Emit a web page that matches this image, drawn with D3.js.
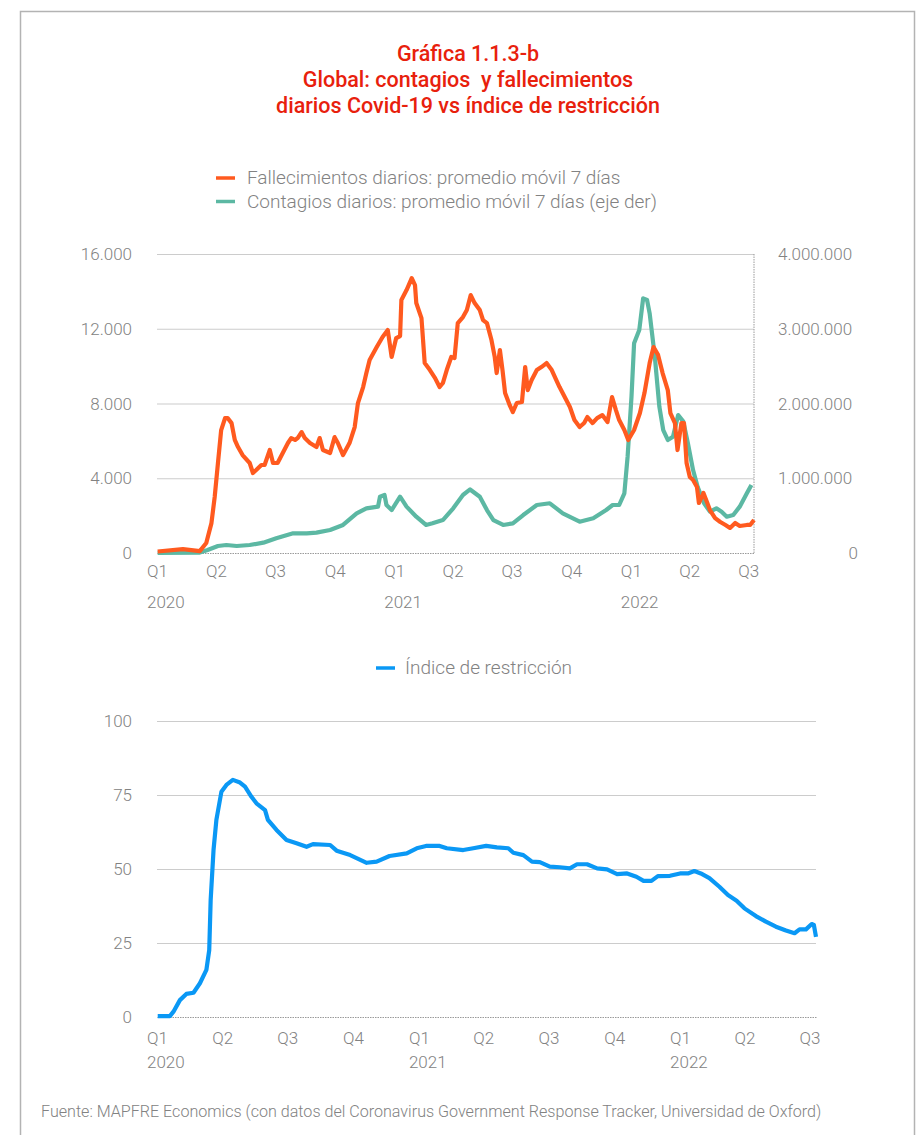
<!DOCTYPE html>
<html><head><meta charset="utf-8">
<script src="https://cdn.jsdelivr.net/npm/d3@7"></script>
<style>
html,body{margin:0;padding:0;background:#fff;}
svg{display:block;}
text{font-family:Roboto,"Open Sans",sans-serif;}
</style></head>
<body><svg id="c" width="919" height="1135"></svg>
<script>
// ---------- DATA ----------
const titleLines = ["Gráfica 1.1.3-b", "Global: contagios  y fallecimientos", "diarios Covid-19 vs índice de restricción"];
const legendTop = ["Fallecimientos diarios: promedio móvil 7 días", "Contagios diarios: promedio móvil 7 días (eje der)"];
const legendBottom = ["Índice de restricción"];
const sourceText = "Fuente: MAPFRE Economics (con datos del Coronavirus Government Response Tracker, Universidad de Oxford)";

const quarterTicks = ["2020-01-01","2020-04-01","2020-07-01","2020-10-01","2021-01-01","2021-04-01","2021-07-01","2021-10-01","2022-01-01","2022-04-01","2022-07-01"];
const quarterLabels = ["Q1","Q2","Q3","Q4","Q1","Q2","Q3","Q4","Q1","Q2","Q3"];
const yearLabels = ["2020","","","","2021","","","","2022","",""];
const leftTicks = [0, 4000, 8000, 12000, 16000];
const rightTicks = [0, 1000000, 2000000, 3000000, 4000000];
const indexTicks = [0, 25, 50, 75, 100];

// Fallecimientos diarios (promedio móvil 7 días)
const deaths = [["2020-01-02",80],["2020-02-10",210],["2020-03-07",100],["2020-03-17",535],["2020-03-25",1600],["2020-03-30",3000],["2020-04-04",4800],["2020-04-09",6580],["2020-04-15",7220],["2020-04-19",7220],["2020-04-25",6950],["2020-04-30",6050],["2020-05-05",5670],["2020-05-12",5240],["2020-05-23",4815],["2020-05-28",4280],["2020-06-02",4440],["2020-06-10",4710],["2020-06-15",4710],["2020-06-23",5510],["2020-06-28",4815],["2020-07-05",4815],["2020-07-13",5350],["2020-07-21",5885],["2020-07-26",6150],["2020-08-01",6050],["2020-08-05",6150],["2020-08-11",6470],["2020-08-16",6150],["2020-08-24",5885],["2020-09-03",5670],["2020-09-08",6150],["2020-09-13",5510],["2020-09-24",5350],["2020-10-01",6200],["2020-10-06",5885],["2020-10-14",5240],["2020-10-24",5885],["2020-11-01",6740],["2020-11-06",8025],["2020-11-14",8880],["2020-11-19",9630],["2020-11-24",10325],["2020-12-05",11020],["2020-12-14",11560],["2020-12-22",11930],["2020-12-28",10490],["2021-01-04",11500],["2021-01-10",11610],["2021-01-12",13535],["2021-01-20",14070],["2021-01-28",14710],["2021-02-02",14340],["2021-02-04",13375],["2021-02-12",12570],["2021-02-17",10165],["2021-02-25",9790],["2021-03-05",9360],["2021-03-12",8880],["2021-03-17",9095],["2021-03-23",9790],["2021-03-30",10490],["2021-04-04",10430],["2021-04-09",12300],["2021-04-17",12625],["2021-04-23",13000],["2021-04-29",13800],["2021-05-05",13375],["2021-05-13",13000],["2021-05-18",12465],["2021-05-24",12300],["2021-05-31",11395],["2021-06-05",10490],["2021-06-08",9630],["2021-06-13",10860],["2021-06-17",9790],["2021-06-21",8560],["2021-06-28",7920],["2021-07-03",7545],["2021-07-09",8025],["2021-07-17",8080],["2021-07-22",9950],["2021-07-26",8720],["2021-08-01",9255],["2021-08-09",9790],["2021-08-16",9950],["2021-08-24",10165],["2021-09-01",9790],["2021-09-08",9255],["2021-09-13",8880],["2021-09-21",8345],["2021-09-29",7810],["2021-10-06",7115],["2021-10-14",6740],["2021-10-21",6955],["2021-10-26",7275],["2021-11-03",6955],["2021-11-10",7220],["2021-11-18",7380],["2021-11-26",7010],["2021-12-03",8345],["2021-12-09",7650],["2021-12-14",7115],["2021-12-22",6580],["2021-12-28",6045],["2022-01-06",6580],["2022-01-15",7490],["2022-01-22",8560],["2022-01-30",10165],["2022-02-05",11020],["2022-02-12",10600],["2022-02-19",9630],["2022-02-27",8720],["2022-03-03",7490],["2022-03-10",6955],["2022-03-14",5510],["2022-03-20",6955],["2022-03-24",6955],["2022-03-28",4815],["2022-04-02",4065],["2022-04-07",3905],["2022-04-13",3530],["2022-04-16",2675],["2022-04-23",3210],["2022-04-29",2675],["2022-05-03",2300],["2022-05-11",1870],["2022-05-19",1660],["2022-05-27",1500],["2022-06-03",1340],["2022-06-11",1605],["2022-06-18",1445],["2022-06-29",1500],["2022-07-04",1500],["2022-07-10",1765]];

// Contagios diarios (promedio móvil 7 días, eje derecho)
const cases = [["2020-01-02",0],["2020-03-07",5000],["2020-03-19",40000],["2020-04-04",93600],["2020-04-17",107000],["2020-05-03",94000],["2020-05-23",107000],["2020-06-13",138000],["2020-07-03",197000],["2020-07-29",263000],["2020-08-19",263000],["2020-09-03",272000],["2020-09-24",308000],["2020-10-14",375000],["2020-11-04",531000],["2020-11-19",598000],["2020-12-07",620000],["2020-12-10",753000],["2020-12-17",776000],["2020-12-20",642000],["2020-12-28",575000],["2021-01-10",753000],["2021-01-20",620000],["2021-02-04",486000],["2021-02-19",375000],["2021-03-01",397000],["2021-03-17",441000],["2021-04-02",598000],["2021-04-17",776000],["2021-04-28",850000],["2021-05-13",753000],["2021-05-24",575000],["2021-06-03",441000],["2021-06-18",375000],["2021-07-03",397000],["2021-07-19",508000],["2021-08-09",642000],["2021-08-29",665000],["2021-09-18",531000],["2021-10-14",419000],["2021-11-04",464000],["2021-11-24",575000],["2021-12-04",642000],["2021-12-14",642000],["2021-12-22",798000],["2021-12-27",1288000],["2022-01-02",2090000],["2022-01-06",2805000],["2022-01-14",2983000],["2022-01-20",3407000],["2022-01-26",3385000],["2022-01-30",3207000],["2022-02-07",2626000],["2022-02-14",1957000],["2022-02-20",1645000],["2022-02-27",1512000],["2022-03-07",1556000],["2022-03-15",1846000],["2022-03-23",1757000],["2022-03-30",1468000],["2022-04-07",1110000],["2022-04-14",887000],["2022-04-24",665000],["2022-05-03",553000],["2022-05-13",598000],["2022-05-21",553000],["2022-05-29",486000],["2022-06-08",508000],["2022-06-18",620000],["2022-06-29",798000],["2022-07-06",910000]];

// Índice de restricción
const stringency = [["2020-01-02",0.3],["2020-01-19",0.3],["2020-01-24",1.8],["2020-02-02",5.7],["2020-02-11",7.8],["2020-02-21",8.2],["2020-03-01",11.4],["2020-03-10",15.9],["2020-03-14",22.6],["2020-03-16",39.5],["2020-03-20",56.4],["2020-03-24",66.6],["2020-03-31",76.1],["2020-04-07",78.4],["2020-04-16",80.1],["2020-04-26",79.2],["2020-05-03",77.8],["2020-05-12",74.4],["2020-05-19",72.2],["2020-05-31",69.9],["2020-06-04",66.6],["2020-06-16",63.2],["2020-06-30",59.8],["2020-07-14",58.7],["2020-07-28",57.5],["2020-08-06",58.4],["2020-08-30",58.1],["2020-09-08",56.2],["2020-09-27",54.7],["2020-10-20",52.1],["2020-11-03",52.5],["2020-11-21",54.4],["2020-12-15",55.3],["2020-12-29",57.0],["2021-01-11",57.8],["2021-01-30",57.8],["2021-02-09",57.0],["2021-03-04",56.4],["2021-03-18",57.0],["2021-04-05",57.8],["2021-04-20",57.3],["2021-05-06",57.0],["2021-05-13",55.5],["2021-05-27",54.7],["2021-06-08",52.5],["2021-06-19",52.3],["2021-07-03",50.8],["2021-07-17",50.6],["2021-07-31",50.2],["2021-08-10",51.6],["2021-08-24",51.6],["2021-09-07",50.2],["2021-09-21",49.9],["2021-10-05",48.3],["2021-10-19",48.5],["2021-11-01",47.4],["2021-11-11",46.0],["2021-11-22",46.0],["2021-12-01",47.6],["2021-12-18",47.7],["2022-01-01",48.5],["2022-01-12",48.5],["2022-01-21",49.3],["2022-01-30",48.5],["2022-02-11",46.9],["2022-02-25",44.0],["2022-03-09",41.2],["2022-03-21",39.3],["2022-04-01",36.7],["2022-04-17",34.1],["2022-05-01",32.2],["2022-05-15",30.5],["2022-05-29",29.2],["2022-06-10",28.3],["2022-06-17",29.6],["2022-06-26",29.6],["2022-07-04",31.4],["2022-07-07",31.1],["2022-07-10",27.1]];

// ---------- RENDER ----------
const parse = d3.utcParse("%Y-%m-%d");
const C = {orange:"#FF5A1F", teal:"#5CB8A3", blue:"#0A98F5", red:"#E8200C", grey:"#828282", grid:"#cccccc"};
const loc = d3.formatLocale({decimal:",", thousands:".", grouping:[3], currency:["","€"]});
const fmt = loc.format(",d");
const FS = 17;
const svg = d3.select("#c");

svg.append("rect").attr("width",919).attr("height",1135).attr("fill","#fff");
// frame
svg.append("path").attr("d","M20.5,1135V11.5H914.5V1135").attr("fill","none").attr("stroke","#b3b3b3").attr("stroke-width",1.5);

// title
svg.append("g").selectAll("text").data(titleLines).join("text")
  .attr("x",468).attr("y",(d,i)=>61+i*26).attr("text-anchor","middle")
  .style("white-space","pre")
  .attr("font-family","'Roboto Condensed',Roboto,sans-serif")
  .attr("font-weight",500).attr("font-size",21.5).attr("fill",C.red).text(d=>d);

const domain = [parse("2020-01-01"), parse("2022-07-10")];
const tickDates = quarterTicks.map(parse);

function drawXAxis(g, x, y0, qY, yrY){
  const ax = g.append("g").attr("transform",`translate(0,${y0})`)
    .call(d3.axisBottom(x).tickValues(tickDates).tickSize(0).tickFormat((d,i)=>quarterLabels[i]));
  ax.select(".domain").attr("stroke","#9a9a9a").attr("stroke-dasharray","1.5,1").attr("stroke-width",1);
  ax.selectAll("text").attr("dy",0).attr("y",qY).attr("font-size",FS).attr("fill",C.grey).attr("font-family","Roboto,sans-serif").attr("font-weight",300);
  g.append("g").selectAll("text").data(tickDates.map((d,i)=>[d,yearLabels[i]]).filter(d=>d[1])).join("text")
    .attr("x",d=>x(d[0])-10).attr("y",y0+yrY).attr("font-size",FS).attr("fill",C.grey).attr("font-weight",300).text(d=>d[1]);
}

// ===== TOP CHART =====
const T = {l:157, r:754, t:254, b:553};
const xT = d3.scaleUtc().domain(domain).range([T.l, T.r]);
const yL = d3.scaleLinear().domain([0,16000]).range([T.b, T.t]);
const yR = d3.scaleLinear().domain([0,4000000]).range([T.b, T.t]);
const gT = svg.append("g");

const gl = gT.append("g").attr("transform",`translate(${T.l},0)`)
  .call(d3.axisLeft(yL).tickValues(leftTicks.slice(1)).tickSize(-(T.r-T.l)).tickFormat(""));
gl.select(".domain").remove();
gl.selectAll("line").attr("stroke",C.grid).attr("stroke-width",1.2);
gT.append("g").selectAll("text").data(leftTicks).join("text")
  .attr("x",132).attr("y",d=>yL(d)+6).attr("text-anchor","end").attr("font-size",FS).attr("fill",C.grey).attr("font-weight",300).text(d=>fmt(d));
gT.append("g").selectAll("text").data(rightTicks).join("text")
  .attr("x",d=>d===0?858:778).attr("y",d=>yR(d)+6).attr("text-anchor",d=>d===0?"end":"start").attr("font-size",FS).attr("fill",C.grey).attr("font-weight",300).text(d=>fmt(d));
// right dotted border
gT.append("line").attr("x1",T.r).attr("x2",T.r).attr("y1",T.t).attr("y2",T.b).attr("stroke","#9a9a9a").attr("stroke-dasharray","1.5,1");
drawXAxis(gT, xT, T.b, 24, 55);

const lineCases = d3.line().x(d=>xT(parse(d[0]))).y(d=>yR(d[1]));
const lineDeaths = d3.line().x(d=>xT(parse(d[0]))).y(d=>yL(d[1]));
gT.append("path").attr("d",lineCases(cases)).attr("fill","none").attr("stroke",C.teal).attr("stroke-width",4.2).attr("stroke-linejoin","round");
gT.append("path").attr("d",lineDeaths(deaths)).attr("fill","none").attr("stroke",C.orange).attr("stroke-width",4.2).attr("stroke-linejoin","round");

// top legend
const lg = svg.append("g");
[C.orange, C.teal].forEach((c,i)=>{
  lg.append("line").attr("x1",216).attr("x2",235).attr("y1",178+i*23.5).attr("y2",178+i*23.5).attr("stroke",c).attr("stroke-width",3.5);
  lg.append("text").attr("x",247).attr("y",184+i*23.5).attr("font-size",19).attr("fill",C.grey).attr("font-weight",300).text(legendTop[i]);
});

// ===== BOTTOM CHART =====
const B = {l:157, r:816, t:721, b:1017};
const xB = d3.scaleUtc().domain(domain).range([B.l, B.r]);
const yB = d3.scaleLinear().domain([0,100]).range([B.b, B.t]);
const gB = svg.append("g");
const gb = gB.append("g").attr("transform",`translate(${B.l},0)`)
  .call(d3.axisLeft(yB).tickValues(indexTicks.slice(1)).tickSize(-(B.r-B.l)).tickFormat(""));
gb.select(".domain").remove();
gb.selectAll("line").attr("stroke",C.grid).attr("stroke-width",1.2);
gB.append("g").selectAll("text").data(indexTicks).join("text")
  .attr("x",132).attr("y",d=>yB(d)+6).attr("text-anchor","end").attr("font-size",FS).attr("fill",C.grey).attr("font-weight",300).text(d=>d);
drawXAxis(gB, xB, B.b, 27, 51);
const lineIdx = d3.line().x(d=>xB(parse(d[0]))).y(d=>yB(d[1]));
gB.append("path").attr("d",lineIdx(stringency)).attr("fill","none").attr("stroke",C.blue).attr("stroke-width",4.2).attr("stroke-linejoin","round");

svg.append("line").attr("x1",376).attr("x2",395).attr("y1",668).attr("y2",668).attr("stroke",C.blue).attr("stroke-width",3.5);
svg.append("text").attr("x",405).attr("y",674).attr("font-size",19).attr("fill",C.grey).attr("font-weight",300).text(legendBottom[0]);

// source
svg.append("text").attr("x",41).attr("y",1117).attr("font-size",16.1).attr("fill",C.grey).attr("font-weight",300).text(sourceText);
</script></body></html>
